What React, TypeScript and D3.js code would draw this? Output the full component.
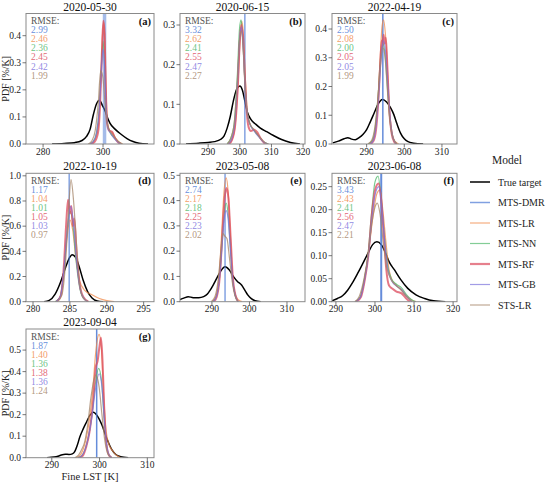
import * as d3 from 'd3';

type Pt = [number, number];

// ---- data ----
const dates = ['2020-05-30', '2020-06-15', '2022-04-19', '2022-10-19', '2023-05-08', '2023-06-08', '2023-09-04'];
const letters = ['a', 'b', 'c', 'd', 'e', 'f', 'g'];
const legendNames = ['True target', 'MTS-DMR', 'MTS-LR', 'MTS-NN', 'MTS-RF', 'MTS-GB', 'STS-LR'];

// RMSE per panel, order: DMR, LR, NN, RF, GB, STS
const rmse = [
  [2.99, 2.46, 2.36, 2.45, 2.42, 1.99],
  [3.32, 2.62, 2.41, 2.55, 2.47, 2.27],
  [2.50, 2.08, 2.00, 2.05, 2.05, 1.99],
  [1.17, 1.04, 1.01, 1.05, 1.03, 0.97],
  [2.74, 2.17, 2.18, 2.25, 2.23, 2.02],
  [3.43, 2.43, 2.41, 2.56, 2.47, 2.21],
  [1.87, 1.40, 1.36, 1.38, 1.36, 1.24],
];

// MTS-DMR is (nearly) a single value -> vertical line
const dmrK = [300.5, 301.6, 294.3, 284.9, 293.5, 301.6, 299.4];

const xDomains: Pt[] = [[274.3, 317], [281.1, 320.6], [280.8, 314], [279.05, 296.4], [281.5, 314.8], [289, 321], [284.6, 311.4]];
const yMax = [0.482, 0.329, 0.454, 1.02, 0.508, 0.279, 0.598];
const xTicks = [[280, 300], [290, 300, 310, 320], [290, 300, 310], [280, 285, 290, 295], [290, 300, 310], [290, 300, 310, 320], [290, 300, 310]];
const yTicks = [
  [0, 0.1, 0.2, 0.3, 0.4],
  [0, 0.1, 0.2, 0.3],
  [0, 0.1, 0.2, 0.3, 0.4],
  [0, 0.2, 0.4, 0.6, 0.8, 1.0],
  [0, 0.1, 0.2, 0.3, 0.4, 0.5],
  [0, 0.05, 0.1, 0.15, 0.2, 0.25],
  [0, 0.1, 0.2, 0.3, 0.4, 0.5],
];

// (a) 2020-05-30
const trueA: Pt[] = [[283, 0], [287, 0.002], [290.5, 0.005], [293, 0.013], [294.5, 0.028], [295.7, 0.055], [296.8, 0.11], [297.8, 0.148], [298.8, 0.162], [299.8, 0.142], [300.6, 0.125], [301.4, 0.1], [302.3, 0.077], [304, 0.055], [306, 0.036], [308, 0.02], [310, 0.009], [312, 0.003], [315, 0]];
const lrA: Pt[] = [[295.5, 0], [296.8, 0.008], [297.8, 0.03], [298.6, 0.09], [299.3, 0.24], [299.8, 0.4], [300.2, 0.45], [300.6, 0.38], [301, 0.2], [301.5, 0.08], [302.2, 0.05], [303.2, 0.04], [304.2, 0.022], [305.3, 0.008], [306.5, 0]];
const nnA: Pt[] = [[295.5, 0], [296.8, 0.01], [297.8, 0.04], [298.7, 0.13], [299.4, 0.28], [300, 0.38], [300.5, 0.3], [301, 0.15], [301.6, 0.065], [302.5, 0.04], [303.8, 0.022], [305, 0.008], [306, 0]];
const rfA: Pt[] = [[296, 0], [297.2, 0.008], [298.3, 0.04], [299, 0.14], [299.6, 0.33], [300.1, 0.455], [300.5, 0.41], [300.9, 0.22], [301.3, 0.08], [302, 0.05], [303, 0.045], [304, 0.022], [305, 0.006], [306, 0]];
const gbA: Pt[] = [[295.5, 0], [296.8, 0.01], [297.8, 0.04], [298.7, 0.12], [299.4, 0.26], [300, 0.35], [300.5, 0.29], [301, 0.14], [301.6, 0.06], [302.5, 0.04], [303.8, 0.02], [305, 0.007], [306, 0]];
const stsA: Pt[] = [[295, 0], [296.3, 0.012], [297.4, 0.05], [298.4, 0.15], [299.2, 0.27], [299.9, 0.25], [300.6, 0.16], [301.3, 0.08], [302.2, 0.05], [303.5, 0.03], [305, 0.01], [306.5, 0]];

// (b) 2020-06-15
const trueB: Pt[] = [[283, 0], [287, 0.002], [290, 0.004], [292, 0.006], [294, 0.012], [295, 0.02], [296, 0.04], [297, 0.07], [298, 0.11], [299, 0.138], [300, 0.146], [300.8, 0.136], [301.6, 0.108], [302.4, 0.08], [303.5, 0.062], [305, 0.05], [306.5, 0.04], [308.5, 0.031], [310.5, 0.022], [313, 0.012], [316, 0.004], [319, 0]];
const lrB: Pt[] = [[296.5, 0], [297.5, 0.01], [298.5, 0.045], [299.3, 0.13], [300, 0.25], [300.6, 0.31], [301.1, 0.28], [301.7, 0.17], [302.4, 0.08], [303.2, 0.05], [304.5, 0.035], [306, 0.02], [307.5, 0.006], [309, 0]];
const nnB: Pt[] = [[296, 0], [297, 0.012], [298.2, 0.05], [299.2, 0.17], [299.9, 0.29], [300.4, 0.313], [300.9, 0.27], [301.5, 0.17], [302.3, 0.08], [303.2, 0.05], [304.5, 0.034], [306, 0.02], [307.5, 0.006], [309, 0]];
const rfB: Pt[] = [[296.5, 0], [297.5, 0.01], [298.5, 0.045], [299.4, 0.15], [300, 0.26], [300.5, 0.3], [301, 0.27], [301.6, 0.17], [302.2, 0.08], [302.8, 0.042], [303.5, 0.033], [304.5, 0.036], [305.5, 0.03], [306.5, 0.015], [308, 0]];
const gbB: Pt[] = [[296.3, 0], [297.3, 0.01], [298.4, 0.05], [299.3, 0.16], [300, 0.27], [300.5, 0.295], [301, 0.26], [301.6, 0.16], [302.3, 0.08], [303.2, 0.05], [304.5, 0.033], [306, 0.018], [307.5, 0.005], [309, 0]];
const stsB: Pt[] = [[296, 0], [297, 0.012], [298.2, 0.05], [299.2, 0.16], [299.9, 0.26], [300.4, 0.285], [301, 0.25], [301.6, 0.16], [302.3, 0.08], [303.2, 0.052], [304.5, 0.036], [306, 0.02], [307.5, 0.006], [309, 0]];

// (c) 2022-04-19
const trueC: Pt[] = [[281, 0.004], [282.5, 0.01], [284, 0.018], [285, 0.022], [286, 0.017], [287, 0.015], [288, 0.022], [289, 0.033], [290, 0.05], [291, 0.078], [292, 0.108], [293, 0.138], [294.2, 0.155], [295.3, 0.146], [296.3, 0.127], [297.2, 0.103], [298, 0.072], [299, 0.038], [300, 0.018], [301, 0.008], [302.5, 0.003], [305, 0]];
const lrC: Pt[] = [[290.5, 0], [291.5, 0.01], [292.3, 0.05], [293, 0.15], [293.6, 0.3], [294.1, 0.41], [294.5, 0.432], [295, 0.38], [295.6, 0.24], [296.2, 0.1], [296.8, 0.035], [297.5, 0.01], [298.5, 0]];
const nnC: Pt[] = [[290.5, 0], [291.5, 0.012], [292.3, 0.06], [293, 0.16], [293.7, 0.3], [294.3, 0.35], [294.9, 0.31], [295.5, 0.2], [296.2, 0.08], [297, 0.02], [298, 0]];
const rfC: Pt[] = [[291, 0], [291.8, 0.01], [292.5, 0.05], [293.2, 0.17], [293.7, 0.3], [294, 0.36], [294.2, 0.34], [294.5, 0.38], [294.8, 0.35], [295.1, 0.37], [295.5, 0.27], [296, 0.12], [296.6, 0.04], [297.3, 0.008], [298, 0]];
const gbC: Pt[] = [[290.8, 0], [291.7, 0.01], [292.5, 0.06], [293.2, 0.17], [293.9, 0.31], [294.5, 0.36], [295.1, 0.31], [295.7, 0.19], [296.4, 0.07], [297.1, 0.018], [298, 0]];
const stsC: Pt[] = [[290.3, 0], [291.3, 0.012], [292.2, 0.06], [293, 0.16], [293.7, 0.28], [294.3, 0.335], [294.9, 0.3], [295.5, 0.19], [296.2, 0.08], [297, 0.022], [298, 0]];

// (d) 2022-10-19
const trueD: Pt[] = [[281.5, 0], [282.2, 0.01], [283, 0.06], [283.7, 0.15], [284.4, 0.27], [285, 0.355], [285.3, 0.373], [285.8, 0.35], [286.3, 0.27], [286.8, 0.17], [287.4, 0.08], [288, 0.03], [288.7, 0.006], [289.5, 0]];
const lrD: Pt[] = [[283, 0], [283.6, 0.03], [284.1, 0.2], [284.6, 0.5], [285, 0.65], [285.4, 0.56], [285.8, 0.35], [286.3, 0.17], [287, 0.09], [288, 0.055], [289, 0.025], [290, 0.008], [291, 0]];
const nnD: Pt[] = [[283, 0], [283.7, 0.04], [284.2, 0.25], [284.6, 0.55], [285, 0.72], [285.4, 0.62], [285.8, 0.35], [286.3, 0.12], [286.8, 0.03], [287.5, 0]];
const rfD: Pt[] = [[283.2, 0], [283.8, 0.05], [284.2, 0.3], [284.5, 0.62], [284.75, 0.81], [285, 0.7], [285.2, 0.76], [285.4, 0.6], [285.6, 0.66], [285.9, 0.4], [286.3, 0.15], [286.8, 0.04], [287.5, 0]];
const gbD: Pt[] = [[283.1, 0], [283.7, 0.04], [284.2, 0.26], [284.7, 0.6], [285.1, 0.76], [285.5, 0.62], [285.9, 0.33], [286.4, 0.1], [286.9, 0.025], [287.5, 0]];
const stsD: Pt[] = [[283.3, 0], [283.9, 0.05], [284.4, 0.3], [284.8, 0.7], [285.15, 0.97], [285.5, 0.8], [285.9, 0.45], [286.3, 0.15], [286.8, 0.03], [287.5, 0]];

// (e) 2023-05-08
const trueE: Pt[] = [[281.5, 0.008], [282.5, 0.014], [283.7, 0.02], [285, 0.016], [286.5, 0.016], [287.8, 0.02], [288.8, 0.03], [289.5, 0.045], [290.3, 0.065], [291.2, 0.09], [292.3, 0.12], [293.5, 0.138], [294.6, 0.126], [295.7, 0.1], [296.8, 0.08], [297.9, 0.066], [298.8, 0.045], [299.6, 0.026], [300.5, 0.012], [301.5, 0.004], [303, 0]];
const lrE: Pt[] = [[290, 0], [291, 0.02], [291.9, 0.1], [292.6, 0.27], [293.2, 0.43], [293.8, 0.49], [294.3, 0.44], [294.9, 0.27], [295.5, 0.1], [296.2, 0.03], [297, 0.008], [298, 0]];
const nnE: Pt[] = [[290.3, 0], [291.2, 0.02], [292, 0.09], [292.7, 0.23], [293.3, 0.35], [293.8, 0.39], [294.3, 0.35], [294.9, 0.22], [295.5, 0.09], [296.2, 0.025], [297, 0]];
const rfE: Pt[] = [[290.5, 0], [291.3, 0.02], [292.1, 0.1], [292.8, 0.27], [293.4, 0.41], [293.9, 0.45], [294.4, 0.41], [295, 0.25], [295.6, 0.09], [296.3, 0.025], [297, 0]];
const gbE: Pt[] = [[290.3, 0], [291.2, 0.02], [292, 0.09], [292.7, 0.22], [293.3, 0.33], [293.8, 0.36], [294.3, 0.33], [294.9, 0.21], [295.5, 0.09], [296.2, 0.025], [297, 0]];
const stsE: Pt[] = [[289.8, 0], [290.8, 0.02], [291.7, 0.09], [292.4, 0.2], [292.9, 0.27], [293.4, 0.26], [294, 0.25], [294.7, 0.17], [295.4, 0.08], [296.1, 0.025], [297, 0]];

// (f) 2023-06-08
const trueF: Pt[] = [[289, 0.002], [290.4, 0.007], [291.7, 0.013], [293, 0.025], [294.3, 0.042], [295.6, 0.062], [297, 0.085], [298.2, 0.105], [299.4, 0.124], [300.5, 0.13], [301.6, 0.124], [302.6, 0.108], [303.6, 0.087], [305, 0.069], [306.6, 0.048], [308.4, 0.029], [310.5, 0.015], [312.7, 0.007], [315, 0.002], [318, 0]];
const lrF: Pt[] = [[295, 0], [296.3, 0.01], [297.4, 0.05], [298.4, 0.11], [299.4, 0.18], [300.5, 0.235], [301.3, 0.243], [302, 0.2], [302.8, 0.13], [303.6, 0.07], [304.5, 0.045], [305.6, 0.035], [306.8, 0.026], [308, 0.013], [309.5, 0.003], [310.5, 0]];
const nnF: Pt[] = [[295, 0], [296.2, 0.01], [297.3, 0.05], [298.2, 0.1], [299.1, 0.19], [300, 0.26], [300.8, 0.273], [301.5, 0.23], [302.3, 0.15], [303.2, 0.08], [304.2, 0.05], [305.5, 0.038], [306.8, 0.03], [308, 0.016], [309.4, 0.004], [310.5, 0]];
const rfF: Pt[] = [[295.2, 0], [296.4, 0.01], [297.4, 0.048], [298.3, 0.1], [299.2, 0.19], [300.1, 0.245], [300.9, 0.257], [301.6, 0.22], [302.3, 0.14], [302.9, 0.07], [303.6, 0.035], [304.5, 0.028], [305.5, 0.022], [306.8, 0.018], [308, 0.007], [309, 0]];
const gbF: Pt[] = [[295, 0], [296.3, 0.01], [297.4, 0.05], [298.3, 0.1], [299.2, 0.18], [300.1, 0.235], [301, 0.25], [301.7, 0.21], [302.5, 0.13], [303.3, 0.07], [304.3, 0.045], [305.5, 0.034], [306.8, 0.026], [308, 0.012], [309.5, 0]];
const stsF: Pt[] = [[294.8, 0], [296, 0.012], [297.2, 0.05], [298.2, 0.1], [299.2, 0.17], [300, 0.205], [300.6, 0.214], [301.3, 0.19], [302.1, 0.13], [303, 0.075], [304, 0.05], [305.3, 0.036], [306.6, 0.026], [308, 0.012], [309.5, 0]];

// (g) 2023-09-04
const trueG: Pt[] = [[289, 0], [290.5, 0.003], [291.3, 0.007], [292.2, 0.014], [292.8, 0.016], [293.6, 0.015], [294.3, 0.018], [294.8, 0.028], [295.3, 0.055], [295.9, 0.098], [296.6, 0.135], [297.3, 0.167], [298, 0.198], [298.7, 0.211], [299.5, 0.195], [300.5, 0.152], [301.5, 0.09], [302.1, 0.058], [302.6, 0.036], [303.4, 0.015], [304.4, 0.005], [306, 0]];
const lrG: Pt[] = [[295, 0], [295.8, 0.008], [296.5, 0.035], [297.2, 0.09], [297.9, 0.18], [298.6, 0.32], [299.2, 0.49], [299.9, 0.573], [300.4, 0.5], [300.9, 0.27], [301.4, 0.12], [302, 0.06], [302.8, 0.03], [303.6, 0.01], [304.5, 0]];
const nnG: Pt[] = [[295.5, 0], [296.3, 0.01], [297, 0.04], [297.7, 0.1], [298.4, 0.2], [299.1, 0.34], [299.8, 0.415], [300.4, 0.36], [300.9, 0.2], [301.4, 0.07], [301.9, 0.015], [302.5, 0]];
const rfG: Pt[] = [[295.8, 0], [296.5, 0.01], [297.2, 0.05], [297.9, 0.12], [298.6, 0.25], [299.2, 0.42], [299.6, 0.45], [300, 0.52], [300.3, 0.557], [300.6, 0.46], [301, 0.22], [301.4, 0.07], [301.9, 0.015], [302.5, 0]];
const gbG: Pt[] = [[295.5, 0], [296.3, 0.01], [297, 0.04], [297.7, 0.1], [298.4, 0.19], [299.1, 0.31], [299.9, 0.39], [300.5, 0.33], [301, 0.18], [301.5, 0.06], [302, 0.012], [302.6, 0]];
const stsG: Pt[] = [[294.8, 0], [295.6, 0.012], [296.3, 0.04], [296.9, 0.075], [297.5, 0.15], [298.2, 0.28], [298.8, 0.36], [299.3, 0.385], [299.9, 0.33], [300.5, 0.2], [301.1, 0.08], [301.7, 0.02], [302.5, 0]];

const trueCurves = [trueA, trueB, trueC, trueD, trueE, trueF, trueG];
// models per panel: LR, NN, RF, GB, STS
const modelCurves = [
  [lrA, nnA, rfA, gbA, stsA],
  [lrB, nnB, rfB, gbB, stsB],
  [lrC, nnC, rfC, gbC, stsC],
  [lrD, nnD, rfD, gbD, stsD],
  [lrE, nnE, rfE, gbE, stsE],
  [lrF, nnF, rfF, gbF, stsF],
  [lrG, nnG, rfG, gbG, stsG],
];

// ---- styling ----
const FONT = '"Liberation Serif", "DejaVu Serif", serif';
const dmrColor = '#4a78d4';
const modelColors = ['#f08a4b', '#4fb86a', '#dc4a5c', '#7b72dc', '#a48468'];
const modelWidths = [1.2, 1.2, 2, 1.2, 1.2];
const rmseColors = [dmrColor, ...modelColors];
const dmrWidths = [3.5, 1.2, 1.5, 1.2, 1.2, 2, 1.5];

const colLeft = [26, 180, 332];
const colWidth = [128, 125, 125];
const rowTop = [13.5, 173.3, 329];
const rowHeight = [130.5, 128.4, 128.7];

function Panel({ i }: { i: number }) {
  const col = i % 3;
  const row = Math.floor(i / 3);
  const left = colLeft[col];
  const w = colWidth[col];
  const top = rowTop[row];
  const h = rowHeight[row];
  const bottom = top + h;

  const x = d3.scaleLinear().domain(xDomains[i]).range([left, left + w]);
  const y = d3.scaleLinear().domain([0, yMax[i]]).range([bottom, top]);
  const line = d3.line<Pt>()
    .x(d => x(d[0]))
    .y(d => y(d[1]))
    .curve(d3.curveMonotoneX);
  const yFmt = d3.format(i === 5 ? '.2f' : '.1f');
  const clipId = `clip-${i}`;

  return (
    <g>
      <defs>
        <clipPath id={clipId}>
          <rect x={left} y={top} width={w} height={h} />
        </clipPath>
      </defs>

      <g clipPath={`url(#${clipId})`}>
        <path d={line(trueCurves[i]) || ''} fill="none" stroke="#000" strokeWidth={1.5} />
        <line x1={x(dmrK[i])} x2={x(dmrK[i])} y1={y(0)} y2={y(yMax[i])}
          stroke={dmrColor} strokeOpacity={dmrWidths[i] > 2 ? 0.5 : 0.85} strokeWidth={dmrWidths[i]} />
        {modelCurves[i].map((c, k) => (
          <path key={k} d={line(c) || ''} fill="none" stroke={modelColors[k]}
            strokeOpacity={0.75} strokeWidth={modelWidths[k]} />
        ))}
      </g>

      <rect x={left} y={top} width={w} height={h} fill="none" stroke="#8a8a8a" strokeWidth={1} />

      {xTicks[i].map(t => (
        <g key={t}>
          <line x1={x(t)} x2={x(t)} y1={bottom} y2={bottom + 3.5} stroke="#555" strokeWidth={0.8} />
          <text x={x(t)} y={bottom + 10.5} textAnchor="middle" fontSize={9.5} fill="#222">{t}</text>
        </g>
      ))}
      {yTicks[i].map(t => (
        <g key={t}>
          <line x1={left - 3.5} x2={left} y1={y(t)} y2={y(t)} stroke="#555" strokeWidth={0.8} />
          <text x={left - 5} y={y(t) + 3.3} textAnchor="end" fontSize={9.5} fill="#222">{yFmt(t)}</text>
        </g>
      ))}

      <text x={left + w / 2} y={top - 3} textAnchor="middle" fontSize={11.5} fill="#111">{dates[i]}</text>
      <text x={left + w - 3} y={top + 11} textAnchor="end" fontSize={10.5} fontWeight="bold" fill="#111">({letters[i]})</text>

      <text x={left + 5} y={top + 10.5} fontSize={9.5} fill="#555">RMSE:</text>
      {rmse[i].map((v, k) => (
        <text key={k} x={left + 5} y={top + 10.5 + (k + 1) * 9.1} fontSize={9.5}
          fill={rmseColors[k]} fillOpacity={0.85}>{v.toFixed(2)}</text>
      ))}

      {col === 0 && (
        <text transform={`translate(7,${top + h / 2}) rotate(-90)`} textAnchor="middle" dominantBaseline="middle" fontSize={10} fill="#222">PDF [%/K]</text>
      )}
    </g>
  );
}

function Legend() {
  const rows = [182, 202.5, 223, 243.5, 264, 284.5, 305];
  const colors = ['#000', dmrColor, ...modelColors];
  const widths = [1.5, 1.5, 1.2, 1.2, 2.2, 1.2, 1.2];
  return (
    <g>
      <text x={507} y={164} textAnchor="middle" fontSize={11.5} fill="#222">Model</text>
      {legendNames.map((n, k) => (
        <g key={n}>
          <line x1={470} x2={490} y1={rows[k]} y2={rows[k]} stroke={colors[k]}
            strokeOpacity={k === 0 ? 1 : 0.7} strokeWidth={widths[k]} />
          <text x={498} y={rows[k] + 3.5} fontSize={10} fill="#222">{n}</text>
        </g>
      ))}
    </g>
  );
}

export default function App() {
  return (
    <svg width={550} height={485} style={{ position: 'absolute', left: 0, top: 0, background: '#fff', fontFamily: FONT }}>
      {dates.map((_, i) => <Panel key={i} i={i} />)}
      <text x={colLeft[0] + colWidth[0] / 2} y={480} textAnchor="middle" fontSize={10.5} fill="#222">Fine LST [K]</text>
      <Legend />
    </svg>
  );
}
